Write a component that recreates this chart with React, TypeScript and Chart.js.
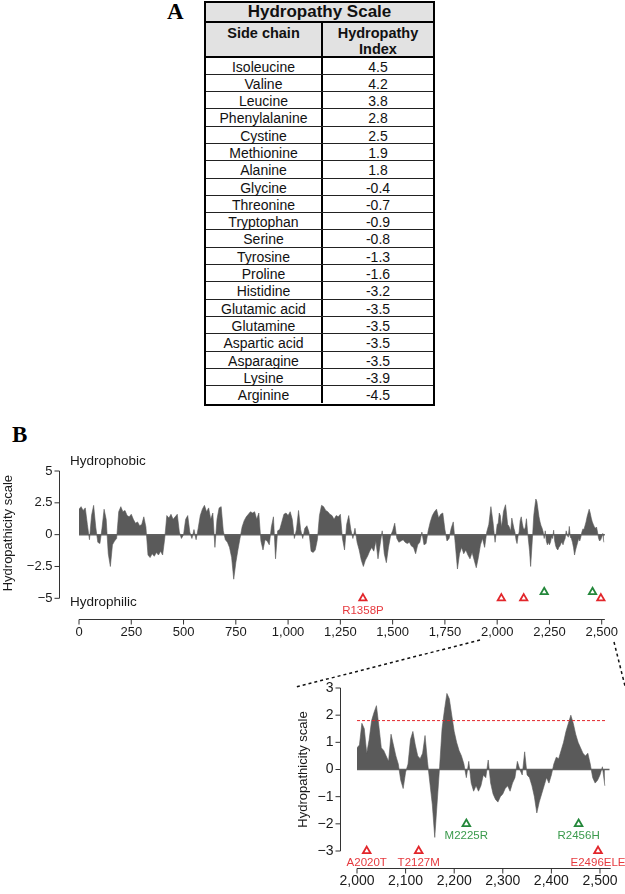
import React, { useEffect, useRef } from 'react';
import { Chart, registerables } from 'chart.js';

Chart.register(...registerables);

// ---------------- Panel A: hydropathy scale ----------------
const SIDE_CHAINS = [
  'Isoleucine', 'Valine', 'Leucine', 'Phenylalanine', 'Cystine', 'Methionine', 'Alanine',
  'Glycine', 'Threonine', 'Tryptophan', 'Serine', 'Tyrosine', 'Proline', 'Histidine',
  'Glutamic acid', 'Glutamine', 'Aspartic acid', 'Asparagine', 'Lysine', 'Arginine',
];
const HYDROPATHY_INDEX = [
  4.5, 4.2, 3.8, 2.8, 2.5, 1.9, 1.8, -0.4, -0.7, -0.9, -0.8, -1.3, -1.6, -3.2, -3.5, -3.5, -3.5, -3.5, -3.9, -4.5,
];

// ---------------- Panel B: hydropathicity profile ----------------
// residues 0..1990, one reading every 10 residues
const MAIN_START = 0;
const MAIN_STEP = 10;
const MAIN_PROFILE = [
  2.0, 2.2, 1.9, 2.1, 0.8, -0.4, 1.5, 2.3, 0.6, -0.6,
  -0.7, 0.5, 2.0, 1.2, -1.5, -2.5, -0.8, -0.5, -0.3, 1.8,
  2.2, 1.8, 1.9, 1.5, 1.4, 1.6, 1.2, 0.9, 1.0, 0.7,
  0.8, 1.4, 0.6, -1.6, -1.8, -1.5, -1.7, -1.4, -1.6, -1.3,
  -1.6, -0.3, 1.5, 1.3, 1.6, 1.2, 1.4, 1.6, 0.2, -0.3,
  0.0, 1.2, 1.5, 0.2, -0.3, 0.4, -0.4, 0.5, 1.5, 2.0,
  2.3, 1.8, 2.1, 1.2, 1.7, -1.0, 1.2, 2.1, 2.2, 0.3,
  -0.4, -0.6, -1.0, -1.8, -3.5, -2.2, -1.2, -0.3, 0.6, 1.1,
  1.4, 1.6, 1.8, 1.7, 1.8, 1.2, 1.7, -0.5, -1.2, -0.4,
  -0.5, -0.8, 0.6, 1.4, -1.9, 0.3, 0.4, 1.0, 1.6, 1.7,
  1.5, 1.8, 1.2, -0.3, 0.4, 1.9, 0.4, -0.3, 0.5, 0.7,
  0.2, -1.3, -1.4, -1.2, -0.4, 1.5, 2.3, 2.2, 1.9, 1.8,
  1.6, 1.5, 1.2, 1.5, 1.4, 1.6, -0.3, -1.2, 0.8, 1.5,
  0.4, -0.3, 0.5, -0.6, -1.2, -2.0, -2.5, -2.0, -1.7, -1.3,
  -1.0, -1.3, -0.5, -1.9, -0.8, 0.3, -1.5, -2.2, -1.0, -0.1,
  0.3, 0.9, -0.3, -0.6, -0.5, -0.4, -0.6, -0.7, -0.6, -0.9,
  -1.0, -1.5, -0.8, -0.6, 0.2, -0.8, -0.7, 0.3, 1.0, 1.5,
  1.8, 2.0, 1.3, 1.6, 1.7, 0.4, -0.5, -0.3, 0.5, 1.0,
  -0.8, -2.7, -1.5, -1.0, -1.5, -1.2, -1.6, -1.9, -1.4, -2.0,
  -2.6, -1.8, -0.8, -0.3, -1.0, 0.2, 0.8, 2.2, 1.0, -0.6,
];
// residues 2000..2510, one reading every 5 residues (shown in both plots)
const ZOOM_START = 2000;
const ZOOM_STEP = 5;
const ZOOM_PROFILE = [
  0.8, 0.9, 1.7, 1.5, 0.6, 1.1, 1.8, 2.1, 2.35, 1.6,
  0.8, 0.7, 0.5, 0.3, 1.3, 0.9, 0.5, 0.2, -0.4, -0.7,
  -0.1, 0.2, 1.1, 1.4, 0.9, 0.5, 0.4, 0.6, 1.25, 0.3,
  -0.5, -1.3, -2.5, -1.2, 0.1, 1.5, 2.2, 2.8, 2.6, 2.0,
  1.4, 1.0, 0.7, 0.5, 0.2, -0.3, 0.3, -0.5, -0.8, -0.6,
  -0.8, -0.6, -0.2, -0.3, 0.35, -0.5, -0.9, -1.1, -1.2, -1.0,
  -0.9, -0.7, -0.6, -0.8, -0.5, -0.3, 0.3, 0.0, -0.2, 0.65,
  -0.2, -0.3, -0.6, -1.0, -1.6, -1.2, -0.9, -0.6, -0.3, -0.5,
  -0.2, 0.2, 0.45, 0.4, 0.7, 1.0, 1.4, 1.7, 2.0, 1.7,
  1.3, 1.0, 0.8, 0.6, 0.5, 0.6, 0.2, -0.3, -0.5, -0.4,
  -0.2, 0.1, -0.6,
];

const MAIN_X_TICKS = [0, 250, 500, 750, 1000, 1250, 1500, 1750, 2000, 2250, 2500];
const MAIN_X_LABELS = ['0', '250', '500', '750', '1,000', '1,250', '1,500', '1,750', '2,000', '2,250', '2,500'];
const MAIN_Y_TICKS = [5, 2.5, 0, -2.5, -5];
const MAIN_Y_LABELS = ['5', '2.5', '0', '\u22122.5', '\u22125'];
const ZOOM_X_TICKS = [2000, 2100, 2200, 2300, 2400, 2500];
const ZOOM_X_LABELS = ['2,000', '2,100', '2,200', '2,300', '2,400', '2,500'];
const ZOOM_Y_TICKS = [3, 2, 1, 0, -1, -2, -3];
const ZOOM_Y_LABELS = ['3', '2', '1', '0', '\u22121', '\u22122', '\u22123'];

const MUT_NAMES = ['R1358P', 'A2020T', 'T2127M', 'M2225R', 'R2456H', 'E2496ELE'];
const MUT_POS = [1358, 2020, 2127, 2225, 2456, 2496];
const MUT_KIND = ['red', 'red', 'red', 'green', 'green', 'red'];
const MAIN_MUT_LEVEL = [-5, -5, -5, -4.5, -4.5, -5];
const MAIN_MUT_LABELED = ['R1358P'];
const ZOOM_MUT_LEVEL = [null, -3, -3, -2, -2, -3];
const CUTOFF = 1.8;

// ---------------- styles ----------------
const SANS = '"Liberation Sans", Arial, Helvetica, sans-serif';
const SERIF = '"Liberation Serif", "Times New Roman", serif';
const FILL = '#5a5a5a';
const ZERO = '#606060';
const AXIS = '#333333';
const RED = '#e2262b';
const GREEN = '#23873a';
const RED_TXT = '#e63a3f';
const GREEN_TXT = '#3a9a4c';

function seg(ctx: any, x1: number, y1: number, x2: number, y2: number) {
  ctx.beginPath();
  ctx.moveTo(x1, y1);
  ctx.lineTo(x2, y2);
  ctx.stroke();
}

const mainDecor = {
  id: 'mainDecor',
  afterDraw(chart: any) {
    const { ctx } = chart;
    const X = (v: number) => chart.scales.x.getPixelForValue(v);
    const Y = (v: number) => chart.scales.y.getPixelForValue(v);
    ctx.save();
    ctx.strokeStyle = AXIS;
    ctx.fillStyle = '#1a1a1a';
    ctx.lineWidth = 1;
    // y axis (detached)
    const ax = Math.round(X(0) - 20) + 0.5;
    seg(ctx, ax, Y(5), ax, Y(-5));
    ctx.font = `13px ${SANS}`;
    ctx.textAlign = 'right';
    ctx.textBaseline = 'middle';
    MAIN_Y_TICKS.forEach((t, i) => {
      seg(ctx, ax - 5, Y(t), ax, Y(t));
      ctx.fillText(MAIN_Y_LABELS[i], ax - 7, Y(t));
    });
    // x axis (detached)
    const ay = Math.round(Y(-5) + 20.7) + 0.5;
    seg(ctx, X(0), ay, X(2515), ay);
    ctx.textAlign = 'center';
    MAIN_X_TICKS.forEach((t, i) => {
      seg(ctx, X(t), ay, X(t), ay + 5);
      ctx.fillText(MAIN_X_LABELS[i], X(t), ay + 13);
    });
    // side notes
    ctx.textAlign = 'left';
    ctx.font = `13.5px ${SANS}`;
    ctx.fillText('Hydrophobic', X(0) - 9, Y(5) - 10);
    ctx.fillText('Hydrophilic', X(0) - 9, Y(-5) + 4);
    // y title
    ctx.save();
    ctx.translate(8.5, Y(0) - 1.5);
    ctx.rotate(-Math.PI / 2);
    ctx.textAlign = 'center';
    ctx.font = `13px ${SANS}`;
    ctx.fillText('Hydropathicity scale', 0, 0);
    ctx.restore();
    // mutation labels
    ctx.font = `11.5px ${SANS}`;
    ctx.textAlign = 'center';
    MUT_NAMES.forEach((n, i) => {
      if (!MAIN_MUT_LABELED.includes(n)) return;
      ctx.fillStyle = MUT_KIND[i] === 'red' ? RED_TXT : GREEN_TXT;
      ctx.fillText(n, X(MUT_POS[i]), Y(MAIN_MUT_LEVEL[i]) + 12.7);
    });
    ctx.restore();
  },
};

const zoomDecor = {
  id: 'zoomDecor',
  afterDraw(chart: any) {
    const { ctx } = chart;
    const X = (v: number) => chart.scales.x.getPixelForValue(v);
    const Y = (v: number) => chart.scales.y.getPixelForValue(v);
    ctx.save();
    ctx.strokeStyle = AXIS;
    ctx.fillStyle = '#1a1a1a';
    ctx.lineWidth = 1;
    // y axis
    const ax = Math.round(X(2000) - 17) + 0.5;
    seg(ctx, ax, Y(3), ax, Y(-3));
    ctx.font = `14px ${SANS}`;
    ctx.textAlign = 'right';
    ctx.textBaseline = 'middle';
    ZOOM_Y_TICKS.forEach((t, i) => {
      seg(ctx, ax - 5, Y(t), ax, Y(t));
      ctx.fillText(ZOOM_Y_LABELS[i], ax - 7, Y(t));
    });
    // x axis
    const ay = Math.round(Y(-3) + 17) + 0.5;
    seg(ctx, X(2000), ay, X(2522), ay);
    ctx.textAlign = 'center';
    ZOOM_X_TICKS.forEach((t, i) => {
      seg(ctx, X(t), ay, X(t), ay + 5);
      ctx.fillText(ZOOM_X_LABELS[i], X(t), ay + 13);
    });
    // y title
    ctx.save();
    ctx.translate(ax - 37, Y(0));
    ctx.rotate(-Math.PI / 2);
    ctx.textAlign = 'center';
    ctx.font = `13px ${SANS}`;
    ctx.fillText('Hydropathicity scale', 0, 0);
    ctx.restore();
    // mutation labels
    ctx.font = `11.5px ${SANS}`;
    MUT_NAMES.forEach((n, i) => {
      const lv = ZOOM_MUT_LEVEL[i];
      if (lv === null) return;
      ctx.fillStyle = MUT_KIND[i] === 'red' ? RED_TXT : GREEN_TXT;
      ctx.fillText(n, X(MUT_POS[i]), Y(lv) + 12);
    });
    // dotted zoom guides
    ctx.strokeStyle = '#111';
    ctx.lineWidth = 1.5;
    ctx.setLineDash([3, 3]);
    seg(ctx, 200, 10, 16, 57);
    seg(ctx, 334, 12, 345, 56);
    ctx.restore();
  },
};

function markerColors(level: (number | null)[]) {
  return MUT_KIND.filter((_, i) => level[i] !== null).map((k) => (k === 'red' ? RED : GREEN));
}

function MainProfile() {
  const ref = useRef<HTMLCanvasElement>(null);
  useEffect(() => {
    const profile = [
      ...MAIN_PROFILE.map((v, i) => ({ x: MAIN_START + i * MAIN_STEP, y: v })),
      ...ZOOM_PROFILE.map((v, i) => ({ x: ZOOM_START + i * ZOOM_STEP, y: v })),
    ];
    const markers = MUT_POS.map((p, i) => ({ x: p, y: MAIN_MUT_LEVEL[i] }));
    const chart = new Chart(ref.current as HTMLCanvasElement, {
      type: 'line',
      data: {
        datasets: [
          {
            data: markers,
            showLine: false,
            pointStyle: 'triangle',
            pointRadius: 4.2,
            pointBorderWidth: 1.8,
            pointBorderColor: markerColors(MAIN_MUT_LEVEL),
            pointBackgroundColor: 'rgba(0,0,0,0)',
            clip: false,
            order: 0,
          },
          {
            data: [{ x: 0, y: 0 }, { x: 2515, y: 0 }],
            borderColor: ZERO,
            borderWidth: 1.5,
            pointRadius: 0,
            order: 1,
          },
          {
            data: profile,
            borderColor: FILL,
            backgroundColor: FILL,
            borderWidth: 0.6,
            fill: 'origin',
            pointRadius: 0,
            tension: 0,
            order: 2,
          },
        ],
      } as any,
      options: {
        responsive: false,
        animation: false,
        events: [],
        layout: { padding: { left: 79, right: 19.1, top: 51, bottom: 51.7 } },
        plugins: { legend: { display: false }, tooltip: { enabled: false } },
        scales: {
          x: { type: 'linear', min: 0, max: 2520, display: false },
          y: { type: 'linear', min: -5, max: 5, display: false },
        },
      } as any,
      plugins: [mainDecor],
    });
    return () => chart.destroy();
  }, []);
  return (
    <canvas
      ref={ref}
      width={625}
      height={230}
      style={{ position: 'absolute', left: 0, top: 420, width: 625, height: 230 }}
    />
  );
}

function ZoomProfile() {
  const ref = useRef<HTMLCanvasElement>(null);
  useEffect(() => {
    const profile = ZOOM_PROFILE.map((v, i) => ({ x: ZOOM_START + i * ZOOM_STEP, y: v }));
    const markers = MUT_POS.map((p, i) => ({ x: p, y: ZOOM_MUT_LEVEL[i] })).filter((m) => m.y !== null);
    const chart = new Chart(ref.current as HTMLCanvasElement, {
      type: 'line',
      data: {
        datasets: [
          {
            data: markers,
            showLine: false,
            pointStyle: 'triangle',
            pointRadius: 4.4,
            pointBorderWidth: 1.8,
            pointBorderColor: markerColors(ZOOM_MUT_LEVEL),
            pointBackgroundColor: 'rgba(0,0,0,0)',
            clip: false,
            order: 0,
          },
          {
            data: [{ x: 2000, y: CUTOFF }, { x: 2512, y: CUTOFF }],
            borderColor: RED,
            borderWidth: 1,
            borderDash: [3, 2],
            pointRadius: 0,
            order: 1,
          },
          {
            data: [{ x: 2000, y: 0 }, { x: 2520, y: 0 }],
            borderColor: ZERO,
            borderWidth: 1.5,
            pointRadius: 0,
            order: 2,
          },
          {
            data: profile,
            borderColor: FILL,
            backgroundColor: FILL,
            borderWidth: 0.6,
            fill: 'origin',
            pointRadius: 0,
            tension: 0,
            order: 3,
          },
        ],
      } as any,
      options: {
        responsive: false,
        animation: false,
        events: [],
        layout: { padding: { left: 77, right: 15.3, top: 58, bottom: 43 } },
        plugins: { legend: { display: false }, tooltip: { enabled: false } },
        scales: {
          x: { type: 'linear', min: 2000, max: 2520, display: false },
          y: { type: 'linear', min: -3, max: 3, display: false },
        },
      } as any,
      plugins: [zoomDecor],
    });
    return () => chart.destroy();
  }, []);
  return (
    <canvas
      ref={ref}
      width={345}
      height={264}
      style={{ position: 'absolute', left: 280, top: 630, width: 345, height: 264 }}
    />
  );
}

function HydropathyTable() {
  const rowH = 17.31;
  const gray = '#e2e2e2';
  return (
    <div
      style={{
        position: 'absolute',
        left: 204,
        top: 1,
        width: 231,
        height: 404.7,
        border: '2px solid #000',
        boxSizing: 'border-box',
        fontFamily: SANS,
        color: '#111',
        background: '#fff',
        display: 'flex',
        flexDirection: 'column',
      }}
    >
      <div
        style={{
          height: 20,
          flex: 'none',
          boxSizing: 'border-box',
          borderBottom: '2px solid #000',
          background: gray,
          fontWeight: 'bold',
          fontSize: 17,
          lineHeight: '18px',
          textAlign: 'center',
        }}
      >
        Hydropathy Scale
      </div>
      <div
        style={{
          height: 34.5,
          flex: 'none',
          boxSizing: 'border-box',
          borderBottom: '2.5px solid #000',
          background: gray,
          display: 'flex',
          fontWeight: 'bold',
          fontSize: 14.5,
          lineHeight: '16px',
          textAlign: 'center',
        }}
      >
        <div style={{ width: 117, boxSizing: 'border-box', borderRight: '2px solid #000', paddingTop: 2 }}>Side chain</div>
        <div style={{ flex: 1, paddingTop: 2 }}>
          Hydropathy
          <br />
          Index
        </div>
      </div>
      {SIDE_CHAINS.map((name, i) => (
        <div
          key={name}
          style={{
            height: rowH,
            flex: 'none',
            boxSizing: 'border-box',
            borderBottom: i < SIDE_CHAINS.length - 1 ? '1px solid #222' : 'none',
            display: 'flex',
            fontSize: 14,
            textAlign: 'center',
          }}
        >
          <div
            style={{
              width: 117,
              boxSizing: 'border-box',
              borderRight: '2px solid #000',
              lineHeight: `${rowH}px`,
              paddingTop: 1,
            }}
          >
            {name}
          </div>
          <div style={{ flex: 1, lineHeight: `${rowH}px`, paddingTop: 1 }}>
            {HYDROPATHY_INDEX[i].toFixed(1)}
          </div>
        </div>
      ))}
    </div>
  );
}

export default function App() {
  return (
    <div style={{ position: 'absolute', left: 0, top: 0, width: 625, height: 894, background: '#fff', overflow: 'hidden' }}>
      <div
        style={{
          position: 'absolute',
          left: 167,
          top: -2,
          fontFamily: SERIF,
          fontWeight: 'bold',
          fontSize: 23,
          lineHeight: '28px',
        }}
      >
        A
      </div>
      <HydropathyTable />
      <div
        style={{
          position: 'absolute',
          left: 12,
          top: 421,
          fontFamily: SERIF,
          fontWeight: 'bold',
          fontSize: 23,
          lineHeight: '28px',
        }}
      >
        B
      </div>
      <MainProfile />
      <ZoomProfile />
    </div>
  );
}
